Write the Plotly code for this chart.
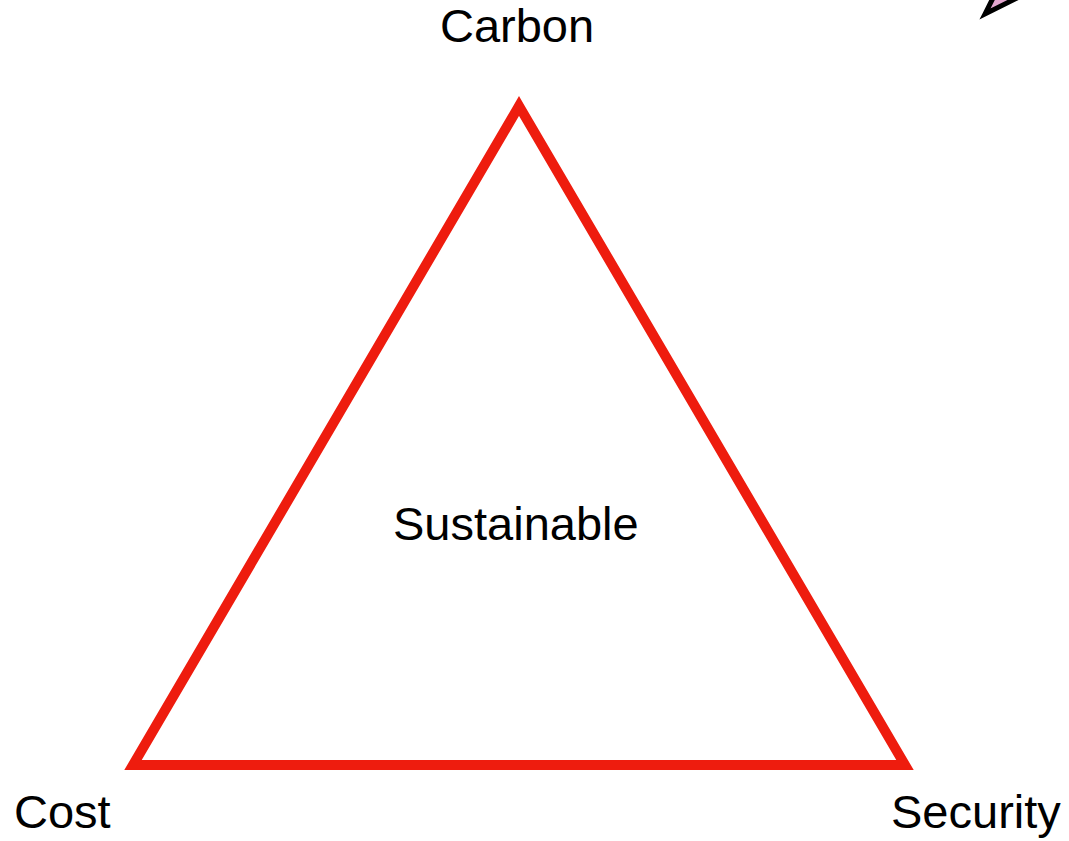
import plotly.graph_objects as go

# Triangle corners (pixel-like units, y grows downward)
corner_names = ["Carbon", "Security", "Cost"]
corner_x = [519, 905, 133]
corner_y = [106, 765, 765]

# label positions for each corner
label_x = [517, 976, 62]
label_y = [25, 811, 811]

centre_label = "Sustainable"
centre_x = 516
centre_y = 523

# pointer fragment in the top right corner (mostly off the page)
pointer_x = [985, 999, 1041]
pointer_y = [14, -14, -14]

W, H = 1069, 841

fig = go.Figure()
fig.add_trace(go.Scatter(x=[0, W], y=[0, H], mode="markers",
                         marker=dict(opacity=0), hoverinfo="skip", showlegend=False))

path = "M " + " L ".join(f"{x},{y}" for x, y in zip(corner_x, corner_y)) + " Z"
fig.add_shape(type="path", path=path, xref="x", yref="y",
              line=dict(color="#EE1C0E", width=10), fillcolor="rgba(0,0,0,0)")

ppath = "M " + " L ".join(f"{x},{y}" for x, y in zip(pointer_x, pointer_y)) + " Z"
fig.add_shape(type="path", path=ppath, xref="x", yref="y",
              line=dict(color="black", width=5), fillcolor="#E3A6CF")

font = dict(size=47, color="black", family="Liberation Sans, Arial")
for name, x, y in zip(corner_names, label_x, label_y):
    fig.add_annotation(x=x, y=y, text=name, showarrow=False, xref="x", yref="y", font=font)

fig.add_annotation(x=centre_x, y=centre_y, text=centre_label, showarrow=False,
                   xref="x", yref="y", font=font)

fig.update_xaxes(range=[0, W], visible=False)
fig.update_yaxes(range=[H, 0], visible=False)
fig.update_layout(width=W, height=H, margin=dict(l=0, r=0, t=0, b=0),
                  plot_bgcolor="white", paper_bgcolor="white")

# drop the default body margin so the canvas sits at the top-left corner
fig.write_html("out.html", config={"displayModeBar": False},
               post_script="document.body.style.margin = '0';")
